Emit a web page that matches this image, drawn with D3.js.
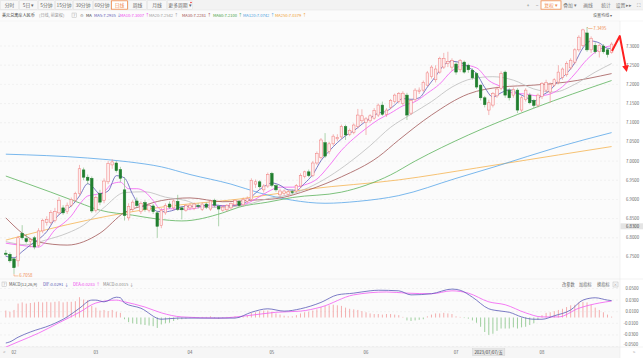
<!DOCTYPE html>
<html><head><meta charset="utf-8">
<script src="https://cdn.jsdelivr.net/npm/d3@7"></script>
<style>
body{margin:0;background:#fff;}
svg{display:block;font-family:"Noto Sans CJK SC","Noto Sans",sans-serif;}
</style></head>
<body><svg id="c" width="643" height="358"></svg>
<script>
// ---------- DATA ----------
// daily candles [open, high, low, close], index 0 = 2023-01-30 ... 148 = 2023-08-24
const candles = [
[6.760,6.768,6.752,6.757],[6.757,6.762,6.735,6.740],[6.745,6.748,6.7058,6.722],[6.740,6.805,6.725,6.800],[6.812,6.833,6.795,6.800],
[6.798,6.810,6.785,6.790],[6.790,6.800,6.775,6.795],[6.800,6.805,6.770,6.776],[6.780,6.825,6.775,6.818],[6.818,6.850,6.812,6.845],
[6.840,6.856,6.832,6.848],[6.840,6.872,6.835,6.866],[6.845,6.878,6.840,6.868],[6.865,6.906,6.860,6.898],[6.878,6.885,6.860,6.865],
[6.868,6.892,6.862,6.885],[6.885,6.905,6.880,6.900],[6.898,6.920,6.893,6.915],[6.915,6.990,6.910,6.980],[6.977,6.983,6.950,6.958],
[6.958,6.965,6.940,6.950],[6.955,6.960,6.865,6.870],[6.872,6.910,6.866,6.905],[6.915,6.925,6.885,6.893],[6.898,6.955,6.890,6.948],
[6.946,7.000,6.940,6.994],[6.990,7.005,6.980,6.998],[6.995,7.000,6.970,6.975],[6.978,6.985,6.945,6.955],[6.925,6.958,6.845,6.858],
[6.852,6.890,6.845,6.882],[6.874,6.898,6.868,6.893],[6.896,6.905,6.880,6.884],[6.868,6.895,6.862,6.890],[6.892,6.898,6.868,6.874],
[6.872,6.890,6.866,6.885],[6.883,6.888,6.862,6.868],[6.865,6.870,6.800,6.830],[6.832,6.878,6.825,6.872],[6.865,6.890,6.860,6.884],
[6.888,6.895,6.875,6.880],[6.878,6.900,6.872,6.896],[6.895,6.912,6.870,6.874],[6.878,6.882,6.848,6.873],[6.872,6.888,6.868,6.884],
[6.878,6.890,6.872,6.885],[6.877,6.892,6.872,6.888],[6.884,6.890,6.876,6.882],[6.874,6.892,6.870,6.888],[6.888,6.892,6.875,6.880],
[6.875,6.900,6.870,6.896],[6.898,6.902,6.880,6.885],[6.882,6.886,6.830,6.875],[6.872,6.885,6.868,6.880],[6.873,6.888,6.868,6.885],
[6.878,6.892,6.874,6.890],[6.886,6.900,6.882,6.898],[6.895,6.898,6.880,6.884],[6.886,6.905,6.882,6.900],[6.895,6.908,6.890,6.903],
[6.900,6.955,6.895,6.950],[6.940,6.952,6.930,6.946],[6.946,6.950,6.928,6.933],[6.925,6.940,6.918,6.935],[6.935,6.970,6.930,6.965],
[6.968,6.972,6.932,6.937],[6.936,6.940,6.920,6.925],[6.912,6.928,6.905,6.922],[6.915,6.926,6.910,6.922],[6.913,6.925,6.905,6.920],
[6.920,6.926,6.912,6.918],[6.922,6.940,6.918,6.936],[6.935,6.968,6.930,6.962],[6.960,6.975,6.955,6.972],[6.972,6.978,6.958,6.962],
[6.962,7.000,6.958,6.995],[6.995,7.025,6.990,7.020],[7.010,7.060,7.005,7.055],[7.048,7.073,7.008,7.013],[7.025,7.050,7.018,7.045],
[7.045,7.070,7.040,7.065],[7.058,7.070,7.052,7.062],[7.063,7.095,7.058,7.090],[7.090,7.095,7.055,7.068],[7.070,7.085,7.065,7.080],
[7.075,7.098,7.070,7.094],[7.090,7.136,7.085,7.120],[7.105,7.135,7.098,7.118],[7.100,7.115,7.068,7.110],[7.105,7.122,7.100,7.118],
[7.112,7.138,7.108,7.132],[7.120,7.150,7.115,7.146],[7.146,7.155,7.118,7.122],[7.122,7.138,7.115,7.133],[7.140,7.162,7.135,7.158],
[7.155,7.176,7.150,7.172],[7.155,7.180,7.150,7.176],[7.150,7.182,7.145,7.177],[7.172,7.178,7.107,7.120],[7.125,7.162,7.120,7.158],
[7.160,7.190,7.155,7.185],[7.182,7.192,7.175,7.185],[7.185,7.210,7.180,7.205],[7.198,7.235,7.195,7.230],[7.220,7.250,7.215,7.245],
[7.212,7.250,7.205,7.240],[7.232,7.272,7.228,7.268],[7.245,7.282,7.240,7.268],[7.254,7.285,7.245,7.260],[7.245,7.268,7.235,7.262],
[7.253,7.258,7.225,7.232],[7.238,7.266,7.232,7.262],[7.258,7.262,7.228,7.232],[7.250,7.254,7.230,7.238],[7.237,7.242,7.212,7.217],
[7.228,7.232,7.188,7.193],[7.198,7.200,7.158,7.165],[7.165,7.170,7.140,7.147],[7.133,7.160,7.120,7.152],[7.146,7.180,7.140,7.176],
[7.170,7.194,7.165,7.188],[7.190,7.234,7.185,7.228],[7.232,7.236,7.165,7.172],[7.185,7.190,7.158,7.165],[7.172,7.192,7.165,7.187],
[7.185,7.190,7.125,7.133],[7.133,7.170,7.128,7.165],[7.160,7.190,7.155,7.185],[7.172,7.178,7.148,7.152],[7.158,7.162,7.138,7.145],
[7.146,7.176,7.140,7.172],[7.168,7.206,7.162,7.202],[7.185,7.212,7.180,7.205],[7.180,7.205,7.152,7.200],[7.198,7.216,7.194,7.212],
[7.206,7.250,7.200,7.232],[7.218,7.244,7.212,7.240],[7.225,7.260,7.220,7.255],[7.243,7.268,7.238,7.263],[7.258,7.294,7.252,7.290],
[7.290,7.328,7.285,7.323],[7.302,7.345,7.296,7.342],[7.334,7.3495,7.285,7.290],[7.290,7.325,7.282,7.320],[7.302,7.310,7.280,7.285],
[7.285,7.306,7.270,7.302],[7.300,7.305,7.280,7.285],[7.290,7.294,7.270,7.278],[7.283,7.310,7.280,7.305]
];
// moving averages: [candle index, value]
const ma5 = [[0,6.752],[2,6.748],[4,6.764],[6,6.781],[8,6.796],[10,6.816],[12,6.849],[14,6.869],[16,6.883],[18,6.909],[20,6.941],[21,6.935],[23,6.915],[25,6.922],[27,6.962],[29,6.956],[31,6.913],[33,6.881],[35,6.885],[37,6.869],[39,6.868],[41,6.872],[43,6.881],[45,6.882],[47,6.882],[49,6.885],[51,6.886],[53,6.883],[55,6.883],[57,6.887],[59,6.895],[61,6.917],[63,6.933],[65,6.943],[67,6.937],[69,6.925],[71,6.924],[73,6.942],[75,6.965],[77,7.001],[79,7.026],[81,7.048],[83,7.066],[85,7.079],[87,7.096],[89,7.112],[91,7.125],[93,7.130],[95,7.146],[97,7.163],[99,7.161],[101,7.165],[103,7.193],[105,7.221],[107,7.250],[109,7.260],[111,7.257],[113,7.245],[115,7.228],[117,7.192],[119,7.167],[121,7.178],[123,7.186],[125,7.177],[127,7.167],[129,7.156],[131,7.171],[133,7.185],[135,7.210],[137,7.228],[139,7.256],[141,7.295],[143,7.313],[145,7.308],[147,7.294],[148,7.2935]];
const ma10 = [[0,6.786],[4,6.780],[8,6.776],[10,6.793],[12,6.821],[14,6.837],[16,6.857],[18,6.887],[20,6.909],[22,6.913],[24,6.920],[26,6.941],[28,6.945],[30,6.928],[32,6.928],[34,6.920],[36,6.897],[38,6.873],[40,6.876],[43,6.874],[46,6.876],[49,6.883],[52,6.883],[55,6.885],[58,6.887],[61,6.901],[64,6.920],[67,6.932],[70,6.932],[73,6.938],[76,6.953],[79,6.988],[82,7.028],[85,7.059],[88,7.085],[91,7.108],[94,7.125],[97,7.144],[100,7.155],[103,7.177],[106,7.201],[109,7.235],[112,7.250],[115,7.243],[118,7.210],[121,7.194],[124,7.177],[127,7.175],[130,7.170],[133,7.175],[136,7.194],[139,7.227],[142,7.265],[145,7.291],[148,7.3007]];
const ma20 = [[0,6.790],[5,6.782],[10,6.795],[15,6.812],[19,6.833],[24,6.879],[29,6.918],[34,6.920],[39,6.906],[44,6.897],[49,6.879],[54,6.880],[59,6.887],[64,6.902],[69,6.912],[74,6.931],[79,6.960],[84,6.997],[89,7.040],[94,7.088],[99,7.122],[104,7.155],[109,7.193],[114,7.215],[119,7.220],[124,7.211],[129,7.188],[134,7.180],[139,7.200],[144,7.232],[148,7.2542]];
const ma30 = [[0,6.852],[8,6.789],[15,6.781],[23,6.812],[29,6.866],[34,6.885],[38,6.897],[45,6.904],[53,6.894],[60,6.898],[66,6.902],[74,6.925],[82,6.959],[91,7.011],[96,7.055],[104,7.120],[113,7.175],[121,7.193],[129,7.198],[137,7.206],[148,7.2281]];
const ma60 = [[0,6.961],[11,6.919],[18,6.891],[23,6.872],[31,6.859],[37,6.849],[43,6.844],[53,6.865],[57,6.880],[64,6.893],[70,6.905],[82,6.919],[94,6.964],[100,7.000],[113,7.068],[129,7.138],[148,7.2100]];
const ma120 = [[0,7.018],[20,7.008],[30,6.998],[38,6.985],[45,6.965],[55,6.940],[62,6.917],[70,6.898],[78,6.890],[86,6.895],[96,6.910],[110,6.955],[120,6.987],[135,7.037],[148,7.0742]];
const ma250 = [[0,6.794],[20,6.846],[38,6.880],[57,6.901],[74,6.927],[96,6.951],[115,6.982],[135,7.016],[148,7.0379]];
// MACD(12,26,9)
const dif = [[0,-0.044],[1,-0.042],[3,-0.034],[6,-0.025],[11,-0.013],[15,0.001],[18,0.016],[21,0.030],[22,0.030],[24,0.027],[27,0.035],[28,0.034],[29,0.025],[33,0.016],[38,-0.003],[42,-0.001],[47,-0.001],[56,-0.001],[60,0.009],[64,0.015],[68,0.011],[72,0.015],[77,0.026],[81,0.039],[85,0.042],[89,0.046],[91,0.047],[96,0.046],[99,0.039],[104,0.041],[109,0.049],[111,0.047],[114,0.035],[118,0.015],[121,0.011],[123,0.009],[126,0.001],[129,-0.003],[131,-0.003],[134,0.003],[138,0.013],[141,0.030],[144,0.034],[147,0.030],[148,0.0291]];
const dea = [[0,-0.051],[3,-0.042],[8,-0.027],[13,-0.009],[18,0.009],[22,0.025],[27,0.030],[29,0.027],[34,0.018],[38,0.008],[43,0.001],[52,-0.001],[60,0.004],[66,0.009],[72,0.011],[77,0.018],[85,0.039],[93,0.044],[98,0.042],[104,0.041],[109,0.046],[113,0.042],[118,0.027],[122,0.022],[127,0.008],[131,0.001],[135,0.001],[140,0.016],[145,0.025],[148,0.0283]];
const macdHist = [
0.012,0.010,0.013,0.024,0.026,0.024,0.025,0.026,0.027,0.026,
0.027,0.026,0.027,0.028,0.026,0.027,0.027,0.028,0.035,0.031,
0.030,0.020,0.017,0.012,0.013,0.011,0.013,0.010,0.008,-0.003,
-0.008,-0.010,-0.011,-0.012,-0.013,-0.014,-0.015,-0.018,-0.012,-0.010,
-0.009,-0.006,-0.004,-0.003,-0.002,-0.001,0.001,-0.001,0.001,0.001,
0.002,-0.001,-0.002,-0.001,0.001,0.001,0.002,0.001,0.002,0.003,
0.008,0.009,0.011,0.012,0.012,0.010,0.007,0.005,0.003,0.002,
0.002,0.004,0.007,0.009,0.010,0.012,0.014,0.018,0.020,0.021,
0.022,0.021,0.020,0.017,0.015,0.014,0.013,0.011,0.009,0.007,
0.006,0.006,0.005,0.006,0.006,0.005,0.004,0.001,-0.005,-0.006,
-0.005,-0.004,-0.003,0.002,0.005,0.007,0.007,0.008,0.007,0.006,
0.002,0.001,-0.001,-0.002,-0.005,-0.009,-0.016,-0.025,-0.030,-0.028,
-0.023,-0.019,-0.019,-0.019,-0.017,-0.019,-0.017,-0.016,-0.013,-0.010,
-0.004,0.004,0.008,0.009,0.011,0.013,0.015,0.018,0.021,0.022,
0.026,0.027,0.026,0.022,0.017,0.013,0.009,0.005,0.0015
];
const monthTicks = [[2,"02"],[22,"03"],[45,"04"],[65,"05"],[88,"06"],[110,"07"],[131,"08"]];
const priceTicks = [7.30,7.25,7.20,7.15,7.10,7.05,7.00,6.95,6.90,6.85,6.80,6.75];
const macdTicks = [0.05,0.03,0.01,-0.01,-0.03,-0.05];
const maInfo = [["MA5",7.2935,"#5a5ab4","↓"],["MA10",7.3007,"#ee44ee","↑"],["MA20",7.2542,"#9a9a9a","↑"],["MA30",7.2281,"#9b4a4a","↑"],["MA60",7.2100,"#3f9f3f","↑"],["MA120",7.0742,"#4a9be0","↑"],["MA250",7.0379,"#f0a030","↑"]];
const macdInfo = [["DIF",0.0291,"#5a5ab4","↓"],["DEA",0.0283,"#ee44ee","↑"],["MACD",0.0015,"#888","↓"]];
const tabs = ["分时","5日 ▾","5分钟","15分钟","30分钟","60分钟","日线","周线","月线","更多周期 ▾"];
const crossDate = [114,"2023/07/07/五"];
const crossPrice = [6.83,"6.8300"];
const arrowPts = [[148.1,7.287],[150,7.326],[151.7,7.232]];

// ---------- LAYOUT ----------
const svg = d3.select("#c");
const PR = 620, MT = 21, MB = 279, SB = 347;
const x = d3.scaleLinear().domain([0,148]).range([5.8,611.6]);
const y = d3.scaleLinear().domain([6.6926,7.3652]).range([MB,MT]);
const ym = d3.scaleLinear().domain([-0.05,0.05]).range([346.5,288.5]);
const FONT = 4.3;

// backgrounds
svg.append("rect").attr("x",0).attr("y",0).attr("width",643).attr("height",358).attr("fill","#fbfbfb");
svg.append("rect").attr("x",0).attr("y",0).attr("width",643).attr("height",10).attr("fill","#f3f3f3");
svg.append("rect").attr("x",PR).attr("y",10).attr("width",23).attr("height",348).attr("fill","#ffffff");
svg.append("rect").attr("x",0).attr("y",SB).attr("width",PR).attr("height",11).attr("fill","#f6f6f6");
svg.append("line").attr("x1",0).attr("x2",643).attr("y1",10).attr("y2",10).attr("stroke","#e2e2e2").attr("stroke-width",0.5);
svg.append("line").attr("x1",0).attr("x2",643).attr("y1",MT).attr("y2",MT).attr("stroke","#ececec").attr("stroke-width",0.5);
svg.append("line").attr("x1",0).attr("x2",643).attr("y1",MB).attr("y2",MB).attr("stroke","#e4e4e4").attr("stroke-width",0.5);
svg.append("line").attr("x1",0).attr("x2",643).attr("y1",SB).attr("y2",SB).attr("stroke","#e4e4e4").attr("stroke-width",0.5);
svg.append("line").attr("x1",PR).attr("x2",PR).attr("y1",MT).attr("y2",358).attr("stroke","#e4e4e4").attr("stroke-width",0.5);

// tabs
const tabEdges = [0,19,38,55,73,93,111,128,147,167,193];
tabs.forEach((t,i)=>{
  const x0=tabEdges[i], x1=tabEdges[i+1], sel = t==="日线";
  svg.append("rect").attr("x",x0+0.5).attr("y",0.8).attr("width",x1-x0-1).attr("height",8.4)
    .attr("fill",sel?"#fff":"#f7f7f7").attr("stroke",sel?"#f08a4b":"#dcdcdc").attr("stroke-width",sel?0.8:0.4);
  svg.append("text").attr("x",(x0+x1)/2).attr("y",6.6).attr("text-anchor","middle")
    .attr("font-size",4.8).attr("fill",sel?"#f08a4b":"#666").text(t);
});
svg.append("circle").attr("cx",191).attr("cy",2.5).attr("r",0.8).attr("fill","#e33");
// right toolbar
const tools = [["+",528,0],["−",537,0],["复权 ▾",551,1],["叠加 ▾",570,0],["画线",588,0],["统计",606,0],["设置 ▸▸",624,0],["⛶",638,0]];
tools.forEach(([t,cx,sel])=>{
  if(sel) svg.append("rect").attr("x",541).attr("y",0.8).attr("width",20).attr("height",8.4).attr("fill","#fff").attr("stroke","#f08a4b").attr("stroke-width",0.8);
  svg.append("text").attr("x",cx).attr("y",6.6).attr("text-anchor","middle").attr("font-size",4.8)
    .attr("fill",sel?"#f08a4b":"#777").text(t);
});

// info row
const info = svg.append("g").attr("font-size",4.1);
info.append("text").attr("x",2).attr("y",16.6).attr("fill","#333").text("美元兑离岸人民币");
info.append("text").attr("x",39).attr("y",16.6).attr("fill","#999").text("(日线, 前复权)");
info.append("rect").attr("x",72).attr("y",13).attr("width",4.5).attr("height",4.5).attr("fill","none").attr("stroke","#aaa").attr("stroke-width",0.4);
info.append("text").attr("x",74.25).attr("y",16.6).attr("text-anchor","middle").attr("fill","#999").text("?");
info.append("text").attr("x",79.5).attr("y",16.8).attr("fill","#999").text("⚙");
info.append("text").attr("x",86).attr("y",16.6).attr("fill","#333").text("MA");
const maX = [94,120,149,182,213,243,275];
maInfo.forEach(([n,v,c,a],i)=>{
  const t = info.append("text").attr("x",maX[i]).attr("y",16.6).attr("fill",c).text(n+":"+v.toFixed(4));
  const w = t.node().getComputedTextLength();
  info.append("text").attr("x",maX[i]+w+1.2).attr("y",16.6).attr("fill",c).text(a);
});
info.append("text").attr("x",593).attr("y",16.6).attr("fill","#666").text("设置均线 ▾");

// grid + axis (main)
priceTicks.forEach(v=>{
  svg.append("line").attr("x1",0).attr("x2",PR).attr("y1",y(v)).attr("y2",y(v))
    .attr("stroke","#e6e6e6").attr("stroke-width",0.5).attr("stroke-dasharray","2,2");
  svg.append("text").attr("x",626).attr("y",y(v)+1.5).attr("font-size",FONT).attr("fill","#666").text(v.toFixed(4));
});
svg.append("rect").attr("x",PR+0.5).attr("y",y(crossPrice[0])-3).attr("width",22.5).attr("height",6).attr("fill","#e4e4e4");
svg.append("text").attr("x",626).attr("y",y(crossPrice[0])+1.5).attr("font-size",FONT).attr("fill","#444").text(crossPrice[1]);

// clip paths
const defs = svg.append("defs");
defs.append("clipPath").attr("id","cm").append("rect").attr("x",0).attr("y",MT).attr("width",PR).attr("height",MB-MT);
defs.append("clipPath").attr("id","cs").append("rect").attr("x",0).attr("y",MB).attr("width",PR).attr("height",SB-MB);

const main = svg.append("g").attr("clip-path","url(#cm)");
// MA lines
const lineP = d3.line().x(d=>x(d[0])).y(d=>y(d[1])).curve(d3.curveMonotoneX);
[[ma250,"#f5b452"],[ma120,"#58a6e8"],[ma60,"#5cb35c"],[ma30,"#a25858"],[ma20,"#bdbdbd"],[ma10,"#f25af2"],[ma5,"#5b5bb8"]].forEach(([d,c])=>{
  main.append("path").attr("d",lineP(d)).attr("fill","none").attr("stroke",c).attr("stroke-width",0.8);
});
// candles
const bw = 2.6;
candles.forEach((d,i)=>{
  const [o,h,l,c] = d, up = c>=o;
  const cx = x(i);
  main.append("line").attr("x1",cx).attr("x2",cx).attr("y1",y(h)).attr("y2",y(l))
    .attr("stroke",up?"#f08a8a":"#78b878").attr("stroke-width",0.6);
  const top = y(Math.max(o,c)), hh = Math.max(0.7, Math.abs(y(o)-y(c)));
  main.append("rect").attr("x",cx-bw/2).attr("y",top).attr("width",bw).attr("height",hh)
    .attr("fill",up?"#fdeeee":"#217f2f").attr("stroke",up?"#f07a7a":"#217f2f").attr("stroke-width",0.5);
});
// high / low marks
let hiI = d3.maxIndex(candles,d=>d[1]), loI = d3.minIndex(candles,d=>d[2]);
const hi = candles[hiI][1], lo = candles[loI][2];
svg.append("path").attr("d",`M${x(hiI)},${y(hi)} L${x(hiI)+1.5},${y(hi)+1.5} L${x(hiI)+5.5},${y(hi)+1.5}`)
  .attr("fill","none").attr("stroke","#f08a4b").attr("stroke-width",0.5);
svg.append("text").attr("x",x(hiI)+6.3).attr("y",y(hi)+3).attr("font-size",FONT).attr("fill","#f08a4b").text(hi.toFixed(4));
svg.append("path").attr("d",`M${x(loI)},${y(lo)} L${x(loI)},${y(lo)+2} L${x(loI)+4.5},${y(lo)+2}`)
  .attr("fill","none").attr("stroke","#f08a4b").attr("stroke-width",0.5);
svg.append("text").attr("x",x(loI)+5.3).attr("y",y(lo)+3).attr("font-size",FONT).attr("fill","#f08a4b").text(lo.toFixed(4));

// red annotation arrow
const ap = arrowPts.map(p=>[x(p[0]),y(p[1])]);
svg.append("path").attr("d",d3.line()(ap.slice(0,2).concat([[ap[2][0]-0.9,ap[2][1]-4.5]])))
  .attr("fill","none").attr("stroke","#ff1f1f").attr("stroke-width",2).attr("stroke-linejoin","round");
{
  const [a,b] = [ap[1],ap[2]], dx=b[0]-a[0], dy=b[1]-a[1], L=Math.hypot(dx,dy), ux=dx/L, uy=dy/L;
  const bx=b[0]-ux*6.5, by=b[1]-uy*6.5;
  svg.append("polygon").attr("points",[[b[0],b[1]],[bx+uy*3.4,by-ux*3.4],[bx-uy*3.4,by+ux*3.4]].map(p=>p.join(",")).join(" "))
    .attr("fill","#ff1f1f");
}

// ---------- MACD panel ----------
const mh = svg.append("g").attr("font-size",4.2);
mh.append("rect").attr("x",2).attr("y",282).attr("width",4.5).attr("height",4.5).attr("fill","none").attr("stroke","#aaa").attr("stroke-width",0.4);
mh.append("text").attr("x",4.25).attr("y",285.7).attr("text-anchor","middle").attr("fill","#999").text("?");
mh.append("text").attr("x",9).attr("y",286).attr("fill","#555").text("MACD(12,26,9)");
const mX = [43,73,103];
macdInfo.forEach(([n,v,c,a],i)=>{
  const t = mh.append("text").attr("x",mX[i]).attr("y",286).attr("fill",c).text(n+":"+v.toFixed(4));
  const w = t.node().getComputedTextLength();
  mh.append("text").attr("x",mX[i]+w+1.2).attr("y",286).attr("fill",c).text(a);
});
[["改参数",562],["加指标",579],["换指标",597]].forEach(([t,px])=>mh.append("text").attr("x",px).attr("y",286).attr("fill","#666").text(t));
mh.append("rect").attr("x",613).attr("y",282).attr("width",5).attr("height",5).attr("fill","none").attr("stroke","#aaa").attr("stroke-width",0.4);
mh.append("text").attr("x",615.5).attr("y",285.8).attr("text-anchor","middle").attr("fill","#999").attr("font-size",3.8).text("×");

macdTicks.forEach(v=>{
  const yy = Math.min(ym(v),344.5);
  svg.append("line").attr("x1",0).attr("x2",PR).attr("y1",ym(v)).attr("y2",ym(v))
    .attr("stroke","#e6e6e6").attr("stroke-width",0.5).attr("stroke-dasharray","2,2");
  svg.append("text").attr("x",v<0?623.5:625.5).attr("y",yy+1.5).attr("font-size",FONT).attr("fill","#666").text(v.toFixed(4));
});
const sub = svg.append("g").attr("clip-path","url(#cs)");
macdHist.forEach((v,i)=>{
  sub.append("line").attr("x1",x(i)).attr("x2",x(i)).attr("y1",ym(0)).attr("y2",ym(v))
    .attr("stroke",v>=0?"#f29a9a":"#86c486").attr("stroke-width",0.8);
});
const lineM = d3.line().x(d=>x(d[0])).y(d=>ym(d[1])).curve(d3.curveMonotoneX);
sub.append("path").attr("d",lineM(dea)).attr("fill","none").attr("stroke","#f25af2").attr("stroke-width",0.8);
sub.append("path").attr("d",lineM(dif)).attr("fill","none").attr("stroke","#5b5bb8").attr("stroke-width",0.8);

// x axis labels
monthTicks.forEach(([i,t])=>{
  svg.append("text").attr("x",x(i)).attr("y",353.8).attr("text-anchor","middle").attr("font-size",FONT).attr("fill","#666").text(t);
});
{
  const bx = x(crossDate[0]);
  const box = svg.append("rect").attr("x",bx).attr("y",348.8).attr("height",7).attr("fill","#e6e6e6").attr("stroke","#cfcfcf").attr("stroke-width",0.4);
  const t = svg.append("text").attr("x",bx+2).attr("y",353.8).attr("font-size",FONT).attr("fill","#444").text(crossDate[1]);
  box.attr("width",t.node().getComputedTextLength()+4);
}
svg.append("text").attr("x",3).attr("y",353.8).attr("font-size",FONT).attr("fill","#999").text("<");
svg.append("text").attr("x",633).attr("y",353.8).attr("font-size",FONT).attr("fill","#999").text(">");
</script>
</body></html>
